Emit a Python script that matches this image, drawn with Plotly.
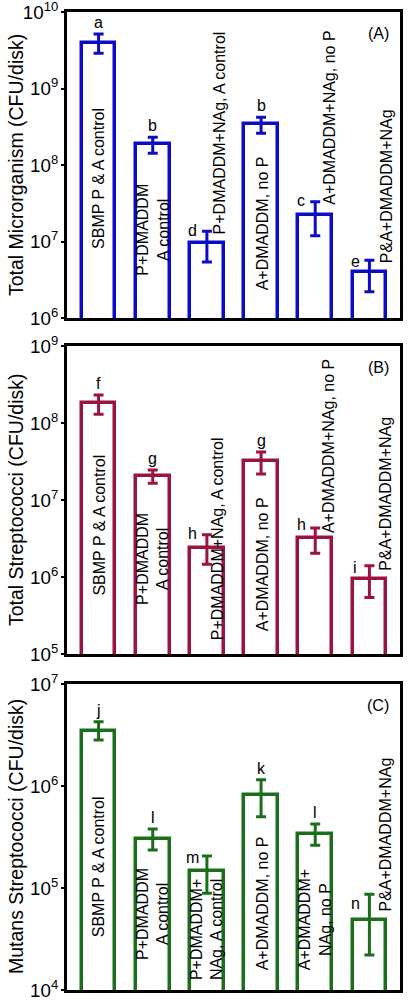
import numpy as np
import plotly.graph_objects as go

# ---------------- data ----------------
x_idx = [0, 1, 2, 3, 4, 5]

# Panel A: Total Microrganism (CFU/disk)
micro_val = [3.97e9, 1.86e8, 9.5e6, 3.44e8, 2.22e7, 3.95e6]
micro_hi = [5.15e9, 2.30e8, 1.36e7, 4.20e8, 3.30e7, 5.7e6]
micro_lo = [2.88e9, 1.42e8, 5.4e6, 2.60e8, 1.19e7, 2.2e6]
micro_letters = ["a", "b", "d", "b", "c", "e"]

# Panel B: Total Streptococci (CFU/disk)
strep_val = [1.80e8, 2.07e7, 2.40e6, 3.20e7, 3.18e6, 9.3e5]
strep_hi = [2.31e8, 2.45e7, 3.55e6, 4.20e7, 4.33e6, 1.40e6]
strep_lo = [1.30e8, 1.65e7, 1.46e6, 2.18e7, 2.03e6, 5.4e5]
strep_letters = ["f", "g", "h", "g", "h", "i"]

# Panel C: Mutans Streptococci (CFU/disk)
mutans_val = [3.49e6, 3.05e5, 1.47e5, 8.1e5, 3.41e5, 4.85e4]
mutans_hi = [4.27e6, 3.79e5, 2.06e5, 1.15e6, 4.24e5, 8.67e4]
mutans_lo = [2.83e6, 2.36e5, 8.9e4, 5.0e5, 2.62e5, 2.2e4]
mutans_letters = ["j", "l", "m", "k", "l", "n"]

labels_ab = ["SBMP P & A control", "P+DMADDM<br>A control", "P+DMADDM+NAg, A control",
             "A+DMADDM, no P", "A+DMADDM+NAg, no P", "P&A+DMADDM+NAg"]
labels_c = ["SBMP P & A control", "P+DMADDM<br>A control", "P+DMADDM+<br>NAg, A control",
            "A+DMADDM, no P", "A+DMADDM+<br>NAg, no P", "P&A+DMADDM+NAg"]

titles = ["Total Microrganism (CFU/disk)", "Total Streptococci (CFU/disk)",
          "Mutans Streptococci (CFU/disk)"]
panel_tags = ["(A)", "(B)", "(C)"]
y_ranges = [(6, 10), (5, 9), (4, 7)]

# ---------------- layout / style ----------------
W, H = 410, 1003
colors = ["#0c0cc8", "#9b1244", "#1b6f1b"]
FONT = "Liberation Sans, Arial, sans-serif"
x_dom = [67 / W, 400 / W]
px_boxes = [(12, 318), (346, 654), (684, 990)]  # top, bottom in pixels
# label centre (log10 y) and x shift (px)
label_y = [[7.826, 7.15, 8.425, 7.238, 8.621, 7.728],
           [6.675, 6.232, 6.502, 6.167, 7.703, 7.087],
           [5.209, 4.743, 4.596, 4.85, 4.686, 5.528]]
label_dx = [[0, 0, 13, 1, 14, 17],
            [0, 0, 10, 1, 14, 16],
            [0, 0, 0, 1, 0, 16]]
letter_above = [[True, True, False, True, False, False],
                [True, True, False, True, False, False],
                [True, True, False, True, True, False]]
letter_dy = [[0, 0, 0, 0, 0, -2],
             [0, 0, 0, 0, 2, -3],
             [0, 0, -3, 0, 0, -10]]

datasets = [(micro_val, micro_hi, micro_lo, micro_letters, labels_ab),
            (strep_val, strep_hi, strep_lo, strep_letters, labels_ab),
            (mutans_val, mutans_hi, mutans_lo, mutans_letters, labels_c)]

fig = go.Figure()
annotations = []
layout_axes = {}
for p, (vals, hi, lo, letters, labels) in enumerate(datasets):
    sfx = "" if p == 0 else str(p + 1)
    col = colors[p]
    plus = [h - v for h, v in zip(hi, vals)]
    minus = [v - l for v, l in zip(vals, lo)]
    fig.add_trace(go.Bar(
        x=x_idx, y=vals, width=0.62,
        marker=dict(color="white", line=dict(color=col, width=3.5)),
        error_y=dict(type="data", array=plus, arrayminus=minus, symmetric=False,
                     color=col, thickness=3, width=5),
        xaxis="x" + sfx, yaxis="y" + sfx, showlegend=False,
    ))
    top, bot = px_boxes[p]
    dom = [1 - bot / H, 1 - top / H]
    layout_axes["xaxis" + sfx] = dict(
        domain=x_dom, range=[-0.583, 5.565], showticklabels=False, ticks="",
        showgrid=False, zeroline=False, showline=True, linecolor="black",
        linewidth=2.5, mirror=True, anchor="y" + sfx, automargin=False)
    layout_axes["yaxis" + sfx] = dict(
        domain=dom, type="log", range=list(y_ranges[p]), dtick=1,
        exponentformat="power", showexponent="all", ticklabeloverflow="allow",
        ticks="outside", ticklen=3, tickwidth=2, tickcolor="black",
        showgrid=False, zeroline=False, showline=True, linecolor="black",
        linewidth=2.5, mirror=True, anchor="x" + sfx, automargin=False,
        tickfont=dict(family=FONT, size=15, color="black"))
    xr, yr = "x" + sfx, "y" + sfx
    for i in x_idx:
        annotations.append(dict(
            x=i, y=label_y[p][i], xref=xr, yref=yr, text=labels[i], textangle=-90,
            showarrow=False, xanchor="center", yanchor="middle", xshift=label_dx[p][i],
            align="center", font=dict(family=FONT, size=16, color="black")))
        ytop = np.log10(hi[i])
        if letter_above[p][i]:
            annotations.append(dict(
                x=i, y=ytop, xref=xr, yref=yr, text=letters[i], showarrow=False,
                xanchor="center", yanchor="bottom", yshift=1 + letter_dy[p][i],
                font=dict(family=FONT, size=16, color="black")))
        else:
            annotations.append(dict(
                x=i, y=ytop, xref=xr, yref=yr, text=letters[i], showarrow=False,
                xanchor="center", yanchor="middle", xshift=-14, yshift=1 + letter_dy[p][i],
                font=dict(family=FONT, size=16, color="black")))
    annotations.append(dict(
        x=1, y=1, xref=xr + " domain", yref=yr + " domain", text=panel_tags[p],
        showarrow=False, xanchor="right", yanchor="top", xshift=-9, yshift=-11,
        font=dict(family=FONT, size=16, color="black")))
    annotations.append(dict(
        x=16 / W, y=(dom[0] + dom[1]) / 2, xref="paper", yref="paper", text=titles[p],
        textangle=-90, showarrow=False, xanchor="center", yanchor="middle",
        font=dict(family=FONT, size=19.5, color="black")))

fig.update_layout(
    template="none",
    width=W, height=H, margin=dict(l=0, r=0, t=0, b=0, autoexpand=False),
    paper_bgcolor="white", plot_bgcolor="white", bargap=0,
    annotations=annotations, **layout_axes)

fig.write_html("out.html", config={"displayModeBar": False},
               post_script="document.body.style.margin='0px';")
